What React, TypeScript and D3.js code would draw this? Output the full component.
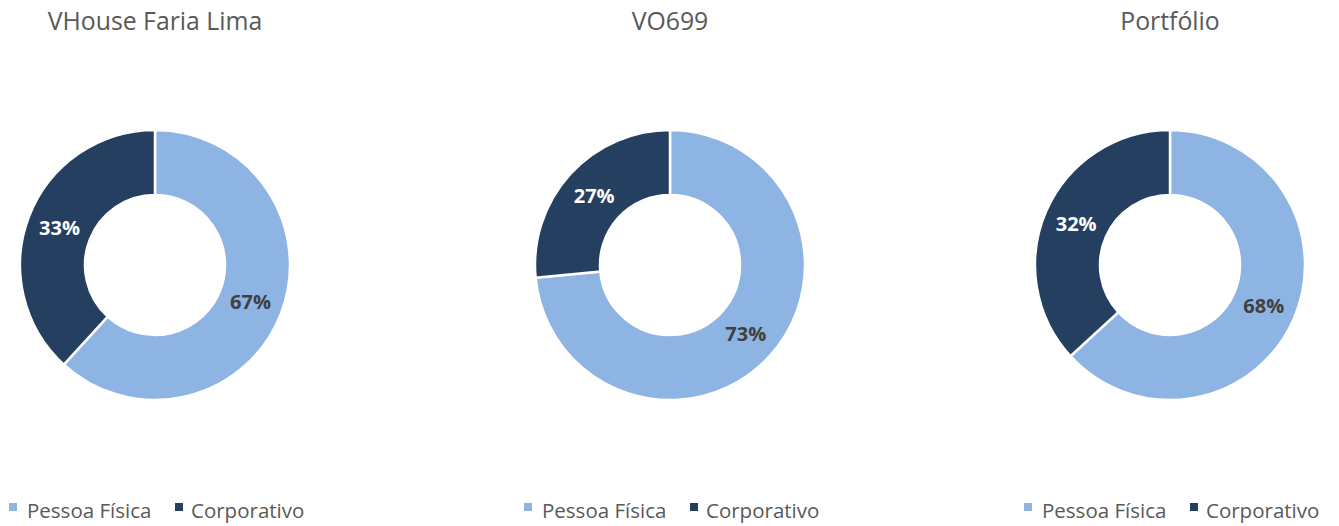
import React from "react";
import * as d3 from "d3";

const categories = ["Pessoa Física", "Corporativo"];
const titles = ["VHouse Faria Lima", "VO699", "Portfólio"];
// slice shares as drawn (Pessoa Física, Corporativo)
const vhouseShares = [61.8, 38.2];
const vo699Shares = [73.5, 26.5];
const portfolioShares = [63.2, 36.8];
// data labels as printed
const vhouseLabels = ["67%", "33%"];
const vo699Labels = ["73%", "27%"];
const portfolioLabels = ["68%", "32%"];

const colors = ["#8EB4E3", "#243F60"];
const labelColors = ["#404040", "#FFFFFF"];

const W = 1339;
const H = 526;
const centersX = [155, 670, 1170];
const cy = 265;
const R = 135;
const r = 70;
const FONT = "'Open Sans', Lato, sans-serif";

const panels = [
  { title: titles[0], shares: vhouseShares, labels: vhouseLabels },
  { title: titles[1], shares: vo699Shares, labels: vo699Labels },
  { title: titles[2], shares: portfolioShares, labels: portfolioLabels },
];

export default function App() {
  const pie = d3
    .pie<number>()
    .sort(null)
    .value((d) => d)
    .startAngle(0)
    .endAngle(2 * Math.PI);
  const arc = d3.arc<d3.PieArcDatum<number>>().innerRadius(r).outerRadius(R);

  return (
    <svg
      width={W}
      height={H}
      style={{ position: "absolute", left: 0, top: 0, background: "#fff" }}
    >
      <rect x={0} y={0} width={W} height={H} fill="#fff" />
      {panels.map((p, i) => {
        const cx = centersX[i];
        const arcs = pie(p.shares);
        const legX = cx - 146;
        return (
          <g key={i}>
            <text
              x={cx}
              y={30}
              textAnchor="middle"
              fontFamily={FONT}
              fontSize={24.8}
              fill="#595959"
            >
              {p.title}
            </text>
            <g transform={`translate(${cx},${cy})`}>
              {arcs.map((a, j) => (
                <path
                  key={j}
                  d={arc(a) || ""}
                  fill={colors[j]}
                  stroke="#fff"
                  strokeWidth={2.5}
                />
              ))}
              {arcs.map((a, j) => {
                const [lx, ly] = arc.centroid(a);
                return (
                  <text
                    key={"l" + j}
                    x={lx}
                    y={ly}
                    dy="0.36em"
                    textAnchor="middle"
                    fontFamily={FONT}
                    fontWeight="bold"
                    fontSize={20}
                    fill={labelColors[j]}
                  >
                    {p.labels[j]}
                  </text>
                );
              })}
            </g>
            <g>
              <rect x={legX} y={503} width={8} height={8} fill={colors[0]} />
              <text
                x={legX + 18}
                y={518}
                fontFamily={FONT}
                fontSize={20.5}
                fill="#595959"
              >
                {categories[0]}
              </text>
              <rect x={legX + 166} y={503} width={8} height={8} fill={colors[1]} />
              <text
                x={legX + 182}
                y={518}
                fontFamily={FONT}
                fontSize={20.5}
                fill="#595959"
              >
                {categories[1]}
              </text>
            </g>
          </g>
        );
      })}
    </svg>
  );
}
